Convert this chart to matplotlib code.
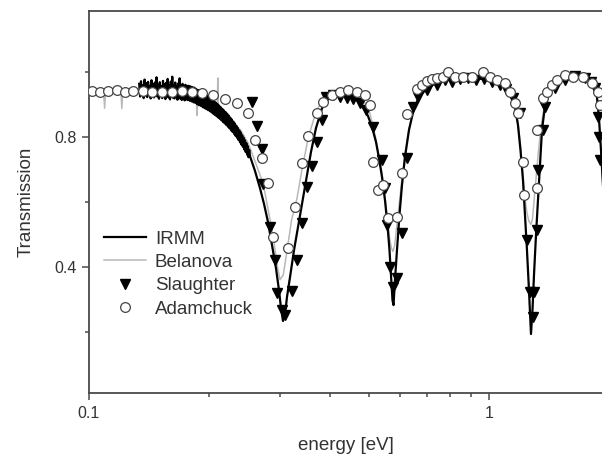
import matplotlib
matplotlib.use("Agg")
import matplotlib.pyplot as plt
from matplotlib.ticker import FixedLocator, NullFormatter, FixedFormatter

plt.rcParams['font.family'] = ['Liberation Sans', 'DejaVu Sans']

# ---------------- data ----------------
irmm_energy = [
    0.1335, 0.1342, 0.1349, 0.1356, 0.1363, 0.1370, 0.1377, 0.1384, 0.1391, 0.1398,
    0.1405, 0.1412, 0.1419, 0.1426, 0.1433, 0.1440, 0.1447, 0.1454, 0.1461, 0.1468,
    0.1475, 0.1482, 0.1489, 0.1496, 0.1503, 0.1510, 0.1517, 0.1524, 0.1531, 0.1538,
    0.1545, 0.1552, 0.1559, 0.1566, 0.1573, 0.1580, 0.1587, 0.1594, 0.1601, 0.1608,
    0.1615, 0.1622, 0.1629, 0.1636, 0.1643, 0.1650, 0.1657, 0.1664, 0.1671, 0.1678,
    0.1685, 0.1692, 0.1699, 0.1706, 0.1713, 0.1720, 0.1727, 0.1734, 0.1741, 0.1748,
    0.1755,
    0.1765, 0.1775, 0.1785, 0.1795, 0.1805, 0.1815, 0.1825, 0.1835, 0.1845, 0.1855,
    0.1865, 0.1875, 0.1885, 0.1895, 0.1905, 0.1915, 0.1925, 0.1935, 0.1945, 0.1955,
    0.1965, 0.1975, 0.1985, 0.1995, 0.2005, 0.2015, 0.2025, 0.2035, 0.2045, 0.2055,
    0.2065, 0.2075, 0.2085, 0.2095, 0.2105, 0.2115, 0.2125, 0.2135, 0.2145, 0.2155,
    0.2165, 0.2175, 0.2185, 0.2195, 0.2205, 0.2215, 0.2225, 0.2235, 0.2245, 0.2255,
    0.2265, 0.2275, 0.2285, 0.2295, 0.2305, 0.2315, 0.2325, 0.2335, 0.2345, 0.2355,
    0.2365, 0.2375, 0.2385, 0.2395, 0.2405, 0.2415, 0.2425, 0.2435, 0.2445, 0.2455,
    0.2465, 0.2475, 0.2485, 0.2495, 0.2505, 0.2515,
    0.2527, 0.2600, 0.2676, 0.2738, 0.2802, 0.2867, 0.2934, 0.2985, 0.3020, 0.3055,
    0.3090, 0.3126, 0.3181, 0.3255, 0.3331, 0.3408, 0.3487, 0.3589, 0.3694, 0.3825,
    0.3960, 0.4121, 0.4292, 0.4494, 0.4677, 0.4842, 0.4983, 0.5100, 0.5218, 0.5309,
    0.5402, 0.5495, 0.5575, 0.5640, 0.5689, 0.5738, 0.5772, 0.5821, 0.5888, 0.5973,
    0.6060, 0.6166, 0.6310, 0.6494, 0.6722, 0.7039, 0.7413, 0.7852, 0.8366, 0.8964,
    0.9605, 1.0174, 1.0654, 1.1028, 1.1350, 1.1614, 1.1817, 1.1988, 1.2162, 1.2303,
    1.2445, 1.2589, 1.2735, 1.2846, 1.2957, 1.3107, 1.3258, 1.3412, 1.3568, 1.3804,
    1.4207, 1.4791, 1.5577, 1.6501, 1.7278, 1.7886, 1.8302, 1.8621, 1.8836, 1.9055,
    1.9275,
]
irmm_trans = [
    0.963, 0.924, 0.971, 0.931, 0.958, 0.919, 0.976, 0.927, 0.965, 0.922,
    0.969, 0.933, 0.957, 0.918, 0.974, 0.929, 0.961, 0.921, 0.967, 0.926,
    0.983, 0.924, 0.960, 0.917, 0.968, 0.930, 0.955, 0.919, 0.972, 0.925,
    0.962, 0.916, 0.966, 0.928, 0.978, 0.921, 0.959, 0.915, 0.970, 0.924,
    0.985, 0.920, 0.958, 0.918, 0.967, 0.926, 0.956, 0.914, 0.964, 0.922,
    0.980, 0.917, 0.957, 0.913, 0.963, 0.921, 0.955, 0.912, 0.960, 0.915,
    0.957,
    0.913, 0.957, 0.911, 0.955, 0.909, 0.953, 0.906, 0.951, 0.904, 0.947,
    0.900, 0.944, 0.897, 0.941, 0.895, 0.938, 0.891, 0.934, 0.888, 0.930,
    0.885, 0.926, 0.882, 0.922, 0.879, 0.918, 0.875, 0.914, 0.871, 0.910,
    0.867, 0.905, 0.863, 0.901, 0.859, 0.896, 0.855, 0.891, 0.850, 0.886,
    0.845, 0.881, 0.841, 0.876, 0.836, 0.871, 0.831, 0.865, 0.826, 0.859,
    0.820, 0.853, 0.815, 0.847, 0.809, 0.841, 0.803, 0.834, 0.797, 0.827,
    0.790, 0.820, 0.783, 0.813, 0.776, 0.805, 0.769, 0.797, 0.761, 0.789,
    0.753, 0.780, 0.745, 0.771, 0.737, 0.760,
    0.740, 0.695, 0.642, 0.594, 0.538, 0.467, 0.396, 0.328, 0.273, 0.233,
    0.251, 0.307, 0.368, 0.451, 0.522, 0.593, 0.661, 0.753, 0.827, 0.888,
    0.916, 0.925, 0.928, 0.922, 0.913, 0.891, 0.864, 0.830, 0.784, 0.734,
    0.676, 0.605, 0.528, 0.451, 0.374, 0.297, 0.282, 0.359, 0.451, 0.559,
    0.651, 0.738, 0.821, 0.888, 0.928, 0.950, 0.968, 0.978, 0.984, 0.981,
    0.978, 0.971, 0.962, 0.950, 0.928, 0.891, 0.836, 0.759, 0.667, 0.559,
    0.451, 0.328, 0.193, 0.267, 0.374, 0.497, 0.605, 0.718, 0.821, 0.894,
    0.944, 0.968, 0.981, 0.987, 0.984, 0.974, 0.956, 0.922, 0.857, 0.759,
    0.651,
]

belanova_energy = [
    0.1000, 0.1088, 0.1094, 0.1100, 0.1202, 0.1208, 0.1214, 0.1300, 0.1400, 0.1500,
    0.1600, 0.1700, 0.1800, 0.1856, 0.1862, 0.1868, 0.1950, 0.2030, 0.2093, 0.2099,
    0.2105, 0.2200, 0.2300, 0.2400, 0.2500, 0.2600, 0.2727, 0.2810, 0.2888, 0.2950,
    0.3003, 0.3060, 0.3119, 0.3210, 0.3311, 0.3406, 0.3537, 0.3706, 0.3931, 0.4200,
    0.4500, 0.4800, 0.5000, 0.5200, 0.5400, 0.5495, 0.5575, 0.5640, 0.5700, 0.5754,
    0.5810, 0.5888, 0.5973, 0.6060, 0.6166, 0.6310, 0.6500, 0.6800, 0.7200, 0.7800,
    0.8500, 0.9200, 1.0000, 1.0700, 1.1100, 1.1400, 1.1650, 1.1850, 1.2000, 1.2162,
    1.2303, 1.2445, 1.2589, 1.2735, 1.2846, 1.2957, 1.3107, 1.3258, 1.3412, 1.3568,
    1.3804, 1.4207, 1.4800, 1.5600, 1.6500, 1.7300, 1.7900, 1.8300, 1.8621, 1.8836,
    1.9055, 1.9275,
]
belanova_trans = [
    0.937, 0.937, 0.888, 0.936, 0.938, 0.887, 0.937, 0.938, 0.936, 0.937,
    0.934, 0.930, 0.922, 0.916, 0.866, 0.914, 0.905, 0.894, 0.884, 0.981,
    0.881, 0.866, 0.846, 0.818, 0.780, 0.725, 0.655, 0.570, 0.492, 0.410,
    0.360, 0.375, 0.441, 0.544, 0.610, 0.698, 0.800, 0.882, 0.930, 0.936,
    0.934, 0.918, 0.890, 0.800, 0.690, 0.615, 0.545, 0.490, 0.458, 0.447,
    0.465, 0.530, 0.600, 0.670, 0.745, 0.825, 0.890, 0.935, 0.958, 0.975,
    0.982, 0.980, 0.974, 0.962, 0.946, 0.925, 0.890, 0.830, 0.770, 0.680,
    0.610, 0.565, 0.540, 0.530, 0.548, 0.600, 0.670, 0.740, 0.800, 0.850,
    0.905, 0.948, 0.972, 0.984, 0.989, 0.986, 0.976, 0.958, 0.924, 0.860,
    0.762, 0.655,
]

slaughter_energy = [
    0.2551, 0.2626, 0.2702, 0.2727, 0.2835, 0.2917, 0.2946, 0.3032, 0.3090, 0.3210,
    0.3311, 0.3406, 0.3507, 0.3609, 0.3726, 0.3818, 0.3914, 0.4074, 0.4241, 0.4416,
    0.4571, 0.4760, 0.4926, 0.5138, 0.5393, 0.5495, 0.5549, 0.5655, 0.5764, 0.5877,
    0.6049, 0.6225, 0.6467, 0.6656, 0.6986, 0.7400, 0.7762, 0.8082, 0.8463, 0.8861,
    0.9279, 0.9716, 1.0174, 1.0654, 1.1028, 1.1482, 1.1954, 1.2422, 1.2661, 1.2904,
    1.2957, 1.3161, 1.3283, 1.3671, 1.3804, 1.4622, 1.5488, 1.6406, 1.7378, 1.7989,
    1.8408, 1.8762, 1.8870, 1.9001,
]
slaughter_trans = [
    0.908, 0.834, 0.762, 0.654, 0.522, 0.421, 0.319, 0.267, 0.251, 0.325,
    0.421, 0.534, 0.645, 0.710, 0.784, 0.851, 0.923, 0.928, 0.922, 0.919,
    0.916, 0.904, 0.882, 0.830, 0.728, 0.642, 0.528, 0.400, 0.338, 0.365,
    0.504, 0.735, 0.892, 0.923, 0.944, 0.959, 0.974, 0.968, 0.978, 0.981,
    0.974, 0.978, 0.968, 0.959, 0.947, 0.919, 0.873, 0.482, 0.323, 0.246,
    0.323, 0.513, 0.698, 0.821, 0.892, 0.950, 0.974, 0.987, 0.981, 0.968,
    0.950, 0.862, 0.800, 0.728,
]

adamchuck_energy = [
    0.1016, 0.1065, 0.1115, 0.1173, 0.1230, 0.1290, 0.1367, 0.1435, 0.1520, 0.1610,
    0.1705, 0.1806, 0.1913, 0.2045, 0.2188, 0.2340, 0.2502, 0.2600, 0.2702, 0.2807,
    0.2888, 0.3149, 0.3273, 0.3406, 0.3534, 0.3706, 0.3853, 0.4043, 0.4241, 0.4448,
    0.4668, 0.4898, 0.5041, 0.5138, 0.5288, 0.5444, 0.5600, 0.5904, 0.6076, 0.6225,
    0.6596, 0.6788, 0.6986, 0.7190, 0.7400, 0.7687, 0.7912, 0.8222, 0.8624, 0.9053,
    0.9677, 1.0058, 1.0453, 1.0965, 1.1285, 1.1614, 1.1837, 1.2184, 1.2232, 1.3161,
    1.3161, 1.3671, 1.3942, 1.4349, 1.4768, 1.5488, 1.6249, 1.7211, 1.8061, 1.8762,
    1.8942,
]
adamchuck_trans = [
    0.942, 0.938, 0.942, 0.944, 0.938, 0.942, 0.942, 0.938, 0.938, 0.938,
    0.941, 0.938, 0.934, 0.930, 0.915, 0.903, 0.872, 0.790, 0.734, 0.657,
    0.492, 0.457, 0.585, 0.718, 0.802, 0.874, 0.908, 0.928, 0.938, 0.944,
    0.938, 0.928, 0.898, 0.723, 0.636, 0.651, 0.549, 0.554, 0.687, 0.870,
    0.947, 0.959, 0.971, 0.978, 0.980, 0.985, 0.998, 0.985, 0.985, 0.985,
    1.000, 0.985, 0.974, 0.964, 0.938, 0.903, 0.872, 0.723, 0.621, 0.641,
    0.821, 0.918, 0.938, 0.959, 0.974, 0.990, 0.985, 0.985, 0.964, 0.938,
    0.898,
]

x_ticks = [0.1, 1]
x_ticklabels = ['0.1', '1']
x_minor = [0.2, 0.3, 0.4, 0.5, 0.6, 0.7, 0.8, 0.9]
y_ticks = [0.4, 0.8]
y_ticklabels = ['0.4', '0.8']
y_minor = [0.2, 0.6, 1.0]

# ---------------- figure ----------------
TXT = '#333333'
SP = '#4a4a4a'
fig = plt.figure(figsize=(6.02, 4.54), dpi=100)
ax = fig.add_axes([89 / 602, 1 - 393.3 / 454, (602 - 89) / 602, (393.3 - 10.7) / 454])

ax.plot(belanova_energy, belanova_trans, color='#b8b8b8', lw=1.1, zorder=2, label='Belanova')
ax.plot(irmm_energy, irmm_trans, color='black', lw=1.6, zorder=3, label='IRMM')
ax.plot(slaughter_energy, slaughter_trans, linestyle='none', marker='v', ms=7.5,
        color='black', zorder=4, label='Slaughter')
ax.plot(adamchuck_energy, adamchuck_trans, linestyle='none', marker='o', ms=7,
        mfc='white', mec='#444444', mew=0.9, zorder=5, label='Adamchuck')

ax.set_xscale('log')
ax.set_xlim(0.1, 1.9167)
ax.set_ylim(0.0105, 1.188)

ax.xaxis.set_major_locator(FixedLocator(x_ticks))
ax.xaxis.set_major_formatter(FixedFormatter(x_ticklabels))
ax.xaxis.set_minor_locator(FixedLocator(x_minor))
ax.xaxis.set_minor_formatter(NullFormatter())
ax.yaxis.set_major_locator(FixedLocator(y_ticks))
ax.yaxis.set_major_formatter(FixedFormatter(y_ticklabels))
ax.yaxis.set_minor_locator(FixedLocator(y_minor))

ax.tick_params(which='major', direction='out', length=5, width=1.1, color=SP,
               labelsize=11.5, labelcolor=TXT, pad=4)
ax.tick_params(which='minor', direction='out', length=3, width=1.1, color=SP)
ax.tick_params(top=False, right=False, which='both')

for s in ['left', 'bottom', 'top']:
    ax.spines[s].set_color(SP)
    ax.spines[s].set_linewidth(1.3)
ax.spines['right'].set_visible(False)

ax.set_xlabel('energy [eV]', fontsize=13.5, color=TXT, labelpad=12)
ax.set_ylabel('Transmission', fontsize=13.5, color=TXT, labelpad=14)

handles, labels = ax.get_legend_handles_labels()
order = [1, 0, 2, 3]
leg = ax.legend([handles[i] for i in order], [labels[i] for i in order],
                loc='upper left', bbox_to_anchor=(0.015, 0.445), frameon=False,
                fontsize=13.5, handlelength=2.25, handletextpad=0.45,
                labelspacing=0.33, borderaxespad=0)
for t in leg.get_texts():
    t.set_color(TXT)

fig.savefig('out.png', dpi=100)
